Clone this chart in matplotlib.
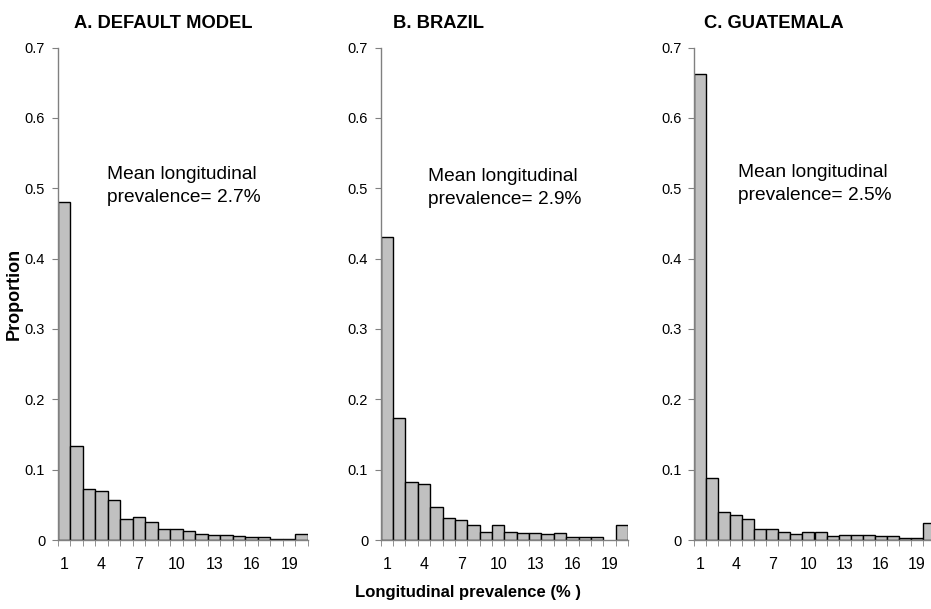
import matplotlib
matplotlib.use("Agg")
import matplotlib.pyplot as plt
import numpy as np
from matplotlib.ticker import FixedLocator, FuncFormatter

plt.rcParams["font.family"] = ["Liberation Sans", "DejaVu Sans"]

# longitudinal prevalence categories (%)
prevalence = np.arange(1, 21)

# proportions
default_model = [0.481, 0.134, 0.073, 0.069, 0.057, 0.030, 0.033, 0.025, 0.016, 0.016,
                 0.013, 0.009, 0.0075, 0.0075, 0.005, 0.004, 0.004, 0.002, 0.002, 0.009]
brazil = [0.430, 0.173, 0.082, 0.079, 0.047, 0.031, 0.029, 0.021, 0.011, 0.021,
          0.012, 0.010, 0.010, 0.0085, 0.010, 0.004, 0.004, 0.004, 0.0, 0.021]
guatemala = [0.663, 0.088, 0.040, 0.035, 0.030, 0.016, 0.016, 0.012, 0.009, 0.011,
             0.012, 0.006, 0.0075, 0.0075, 0.0075, 0.006, 0.006, 0.0035, 0.0035, 0.024]

titles = ["A. DEFAULT MODEL", "B. BRAZIL", "C. GUATEMALA"]
means = ["2.7%", "2.9%", "2.5%"]
xticks = [1, 4, 7, 10, 13, 16, 19]
yticks = [0, 0.1, 0.2, 0.3, 0.4, 0.5, 0.6, 0.7]

W, H = 931, 609
fig = plt.figure(figsize=(W / 100, H / 100), dpi=100)

# axes boxes in pixels: left, right
boxes = [(57.7, 308), (380.7, 628), (694, 935)]
title_x = [163.5, 438.5, 774]
note_x = [107, 428, 738]
note_y = [186, 188, 184]
bottom_px, top_px = 540, 47.5

for i, vals in enumerate([default_model, brazil, guatemala]):
    l, r = boxes[i]
    ax = fig.add_axes([l / W, (H - bottom_px) / H, (r - l) / W, (bottom_px - top_px) / H])
    vals = np.array(vals)
    mask = vals > 0
    ax.bar(prevalence[mask], vals[mask], width=1.0, color="#c0c0c0",
           edgecolor="black", linewidth=1.0)
    ax.set_xlim(0.5, 20.5)
    ax.set_ylim(0, 0.7)
    for s in ["top", "right"]:
        ax.spines[s].set_visible(False)
    for s in ["left", "bottom"]:
        ax.spines[s].set_color("#808080")
        ax.spines[s].set_linewidth(1.0)
    ax.set_yticks(yticks)
    ax.yaxis.set_major_formatter(FuncFormatter(lambda v, p: "0" if v == 0 else f"{v:.1f}"))
    ax.tick_params(axis="y", direction="out", length=4, color="#808080", labelsize=10.5, pad=5)
    ax.set_xticks(xticks)
    ax.xaxis.set_minor_locator(FixedLocator(np.arange(0.5, 21, 1)))
    ax.tick_params(axis="x", which="major", length=0, labelsize=11.5, pad=12)
    ax.tick_params(axis="x", which="minor", direction="out", length=4, color="#808080")

    fig.text(title_x[i] / W, 1 - 23 / H, titles[i], ha="center", va="center",
             fontsize=13.2, fontweight="bold")
    fig.text(note_x[i] / W, 1 - note_y[i] / H, "Mean longitudinal\nprevalence= " + means[i],
             ha="left", va="center", fontsize=13.8, linespacing=1.4)

fig.text(14 / W, 1 - 294 / H, "Proportion", rotation=90, ha="center", va="center",
         fontsize=13, fontweight="bold")
fig.text(468 / W, 1 - 592 / H, "Longitudinal prevalence (% )", ha="center", va="center",
         fontsize=12, fontweight="bold")

fig.savefig("out.png", dpi=100)
